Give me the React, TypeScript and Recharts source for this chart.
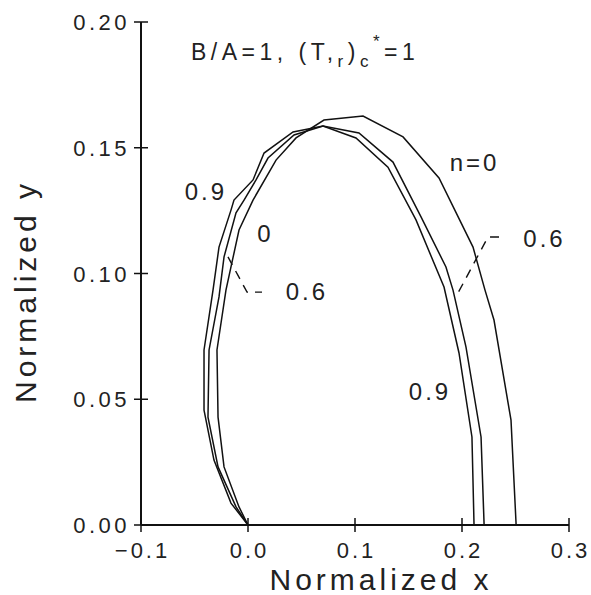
import { Line, LineChart, ReferenceDot, XAxis, YAxis } from 'recharts'

// Closed loops, [x, y], starting at the origin.
const curveN0: [number, number][] = [
  [0, 0], [-0.0084, 0.0072], [-0.0224, 0.0231], [-0.028, 0.0429], [-0.029, 0.0696],
  [-0.0206, 0.0934], [-0.0159, 0.1026], [-0.0084, 0.1173], [0.0047, 0.1292],
  [0.0262, 0.1451], [0.0449, 0.1539], [0.071, 0.161], [0.1075, 0.1626],
  [0.1449, 0.1543], [0.1785, 0.138], [0.2103, 0.1105], [0.2215, 0.0934],
  [0.2299, 0.0815], [0.2458, 0.0417], [0.2505, 0.0008], [0.2505, 0],
]
const curveN06: [number, number][] = [
  [0, 0], [-0.0112, 0.0072], [-0.028, 0.0231], [-0.0374, 0.0429], [-0.0364, 0.0696],
  [-0.0271, 0.0907], [-0.0224, 0.1066], [-0.0112, 0.1241], [-0.0037, 0.1292],
  [0.0075, 0.1372], [0.0187, 0.1459], [0.043, 0.1551], [0.0701, 0.1586],
  [0.1037, 0.1559], [0.1355, 0.1443], [0.1617, 0.1225], [0.185, 0.1026],
  [0.1916, 0.0934], [0.2037, 0.0708], [0.2178, 0.035], [0.2206, 0.0008], [0.2206, 0],
]
const curveN09: [number, number][] = [
  [0, 0], [-0.0159, 0.0087], [-0.0318, 0.0258], [-0.0411, 0.0457], [-0.0411, 0.0696],
  [-0.0327, 0.0934], [-0.0271, 0.1105], [-0.0159, 0.1252], [-0.0131, 0.1292],
  [0.0047, 0.1372], [0.015, 0.1479], [0.0421, 0.1563], [0.0701, 0.1586],
  [0.1009, 0.1539], [0.1308, 0.1423], [0.157, 0.1213], [0.1832, 0.0946],
  [0.1972, 0.0684], [0.2093, 0.035], [0.2112, 0.0008], [0.2112, 0],
]

// dashed leaders from the "0.6" labels to their curve
const leaderLeft: [number, number][] = [[-0.0187, 0.1066], [-0.0009, 0.0926], [0.0131, 0.0926]]
const leaderRight: [number, number][] = [[0.2346, 0.1145], [0.2243, 0.1145], [0.1953, 0.0915]]

const xTicks = [-0.1, 0, 0.1, 0.2, 0.3]
const yTicks = [0, 0.05, 0.1, 0.15, 0.2]

// curve labels: text, x, y (baseline) in data units
const curveLabels: { text: string; x: number; y: number }[] = [
  { text: '0.9', x: -0.0393, y: 0.1292 },
  { text: '0', x: 0.0164, y: 0.1125 },
  { text: '0.6', x: 0.0551, y: 0.0895 },
  { text: 'n=0', x: 0.2117, y: 0.1408 },
  { text: '0.6', x: 0.2771, y: 0.1105 },
  { text: '0.9', x: 0.1701, y: 0.0497 },
]

const FONT = '"Liberation Sans", Arial, sans-serif'
const INK = '#111'
const TEXT = '#222'

const toPts = (arr: [number, number][]) => arr.map(([x, y]) => ({ x, y }))

const fmtX = (v: number) => (v < 0 ? '\u2212' : '') + Math.abs(v).toFixed(1)
const fmtY = (v: number) => v.toFixed(2)

// ticks cross the axis line, like the plotter original
const YTick = (props: any) => {
  const { x, y, payload } = props
  return (
    <g>
      <line x1={x - 7} x2={x + 7} y1={y} y2={y} stroke={INK} strokeWidth={1.5} />
      <text x={x - 11} y={y + 8} textAnchor="end" fontFamily={FONT} fontSize={22} letterSpacing={3.5} fill={TEXT}>
        {fmtY(payload.value)}
      </text>
    </g>
  )
}

const XTick = (props: any) => {
  const { x, y, payload } = props
  return (
    <g>
      <line x1={x} x2={x} y1={y - 7} y2={y + 7} stroke={INK} strokeWidth={1.5} />
      <text x={x + 1.5} y={y + 33} textAnchor="middle" fontFamily={FONT} fontSize={22} letterSpacing={3} fill={TEXT}>
        {fmtX(payload.value)}
      </text>
    </g>
  )
}

export default function App() {
  return (
    <div style={{ position: 'absolute', left: 0, top: 0, background: '#fff' }}>
      <LineChart width={591} height={595} margin={{ top: 22, right: 22, left: 41, bottom: 20 }}>
        <XAxis
          type="number"
          dataKey="x"
          domain={[-0.1, 0.3]}
          ticks={xTicks}
          tickSize={0}
          tickMargin={0}
          tick={<XTick />}
          axisLine={{ stroke: INK, strokeWidth: 2 }}
          height={50}
          label={{
            content: (p: any) => {
              const vb = p.viewBox
              return (
                <text x={vb.x + vb.width / 2 + 26} y={vb.y + 65} textAnchor="middle" fontFamily={FONT} fontSize={30} letterSpacing={4} fill={TEXT}>
                  Normalized x
                </text>
              )
            },
          }}
        />
        <YAxis
          type="number"
          dataKey="y"
          domain={[0, 0.2]}
          ticks={yTicks}
          tickSize={0}
          tickMargin={0}
          tick={<YTick />}
          axisLine={{ stroke: INK, strokeWidth: 2 }}
          width={100}
          label={{
            content: (p: any) => {
              const vb = p.viewBox
              const lx = vb.x - 5
              const ly = vb.y + vb.height / 2 + 18
              return (
                <text x={lx} y={ly} transform={`rotate(-90, ${lx}, ${ly})`} textAnchor="middle" fontFamily={FONT} fontSize={30} letterSpacing={4} fill={TEXT}>
                  Normalized y
                </text>
              )
            },
          }}
        />
        <Line data={toPts(curveN0)} dataKey="y" type="linear" stroke={INK} strokeWidth={1.5} dot={false} isAnimationActive={false} />
        <Line data={toPts(curveN06)} dataKey="y" type="linear" stroke={INK} strokeWidth={1.5} dot={false} isAnimationActive={false} />
        <Line data={toPts(curveN09)} dataKey="y" type="linear" stroke={INK} strokeWidth={1.5} dot={false} isAnimationActive={false} />
        <Line data={toPts(leaderLeft)} dataKey="y" type="linear" stroke={INK} strokeWidth={1.4} strokeDasharray="9 7" dot={false} isAnimationActive={false} />
        <Line data={toPts(leaderRight)} dataKey="y" type="linear" stroke={INK} strokeWidth={1.4} strokeDasharray="9 7" dot={false} isAnimationActive={false} />
        {curveLabels.map((l, i) => (
          <ReferenceDot
            key={i}
            x={l.x}
            y={l.y}
            r={0}
            shape={(p: any) => (
              <text x={p.cx} y={p.cy} textAnchor="middle" fontFamily={FONT} fontSize={24} letterSpacing={3} fill={TEXT}>
                {l.text}
              </text>
            )}
          />
        ))}
        <ReferenceDot
          x={-0.0533}
          y={0.1849}
          r={0}
          shape={(p: any) => (
            <text x={p.cx} y={p.cy} fontFamily={FONT} fontSize={23} letterSpacing={4.5} fill={TEXT}>
              B/A=1,  (T,<tspan dy={7} fontSize={17}>r</tspan>
              <tspan dy={-7}>)</tspan>
              <tspan dy={7} fontSize={17}>c</tspan>
              <tspan dy={-20} fontSize={17}>*</tspan>
              <tspan dy={13}>=1</tspan>
            </text>
          )}
        />
      </LineChart>
    </div>
  )
}
